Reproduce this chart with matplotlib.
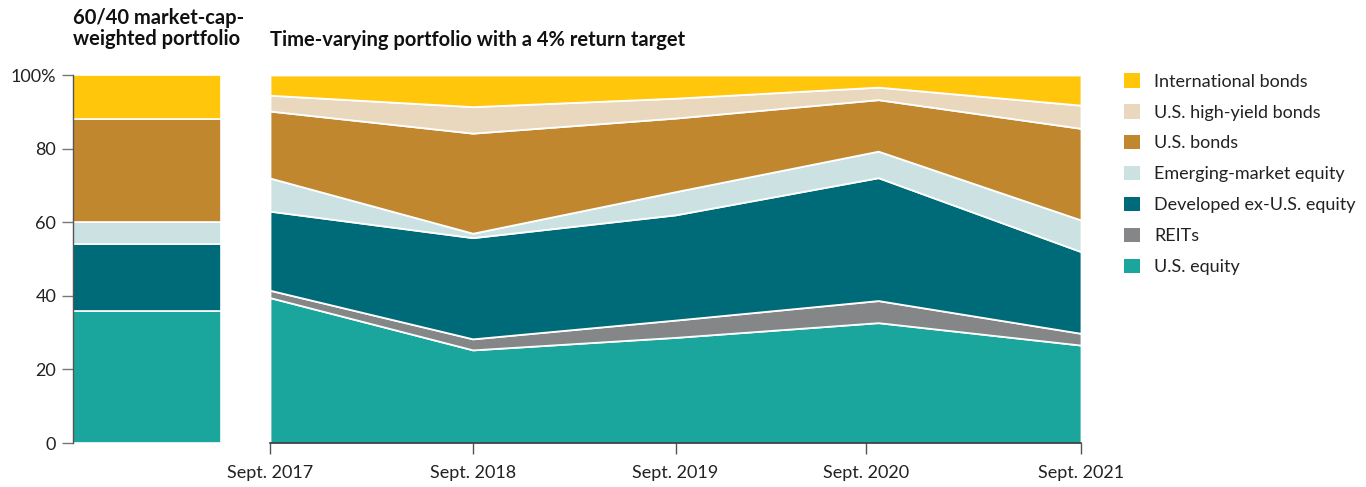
import matplotlib
matplotlib.use("Agg")
import matplotlib.pyplot as plt
from matplotlib.patches import Patch

plt.rcParams['font.family'] = ['Lato', 'DejaVu Sans']

# asset classes, bottom to top
assets = ["U.S. equity", "REITs", "Developed ex-U.S. equity", "Emerging-market equity",
          "U.S. bonds", "U.S. high-yield bonds", "International bonds"]
colors = ["#1AA59D", "#858688", "#006B78", "#CCE1E1", "#C0872E", "#EAD8BE", "#FFC60B"]

# 60/40 market-cap-weighted portfolio (%)
static_mix = [36, 0, 18, 6, 28, 0, 12]

# time-varying portfolio, Sept. 2017 .. Sept. 2021 (%)
years = [0, 1, 2, 3, 4]
us_equity = [39.5, 25.3, 28.7, 32.7, 26.6]
reits = [2.0, 3.0, 4.7, 6.0, 3.2]
dev_exus = [21.5, 27.5, 28.6, 33.4, 22.2]
em_equity = [9.0, 1.2, 6.3, 7.2, 8.6]
us_bonds = [18.2, 27.2, 20.0, 14.0, 24.9]
us_hy = [4.3, 7.2, 5.4, 3.4, 6.3]
intl_bonds = [5.5, 8.6, 6.3, 3.3, 8.2]

tick_pos = [0, 1, 2, 2.94, 4]
tick_labels = ["Sept. 2017", "Sept. 2018", "Sept. 2019", "Sept. 2020", "Sept. 2021"]

W, H = 1366, 487
fig = plt.figure(figsize=(W / 100, H / 100), dpi=100)

ax1 = fig.add_axes([73 / W, 1 - 443 / H, 148 / W, 368 / H])
ax2 = fig.add_axes([270 / W, 1 - 443 / H, 811 / W, 368 / H])

# left: single stacked bar
bottom = 0
for v, c in zip(static_mix, colors):
    if v > 0:
        ax1.bar(0, v, width=1, bottom=bottom, color=c, edgecolor="white", linewidth=1.2)
    bottom += v
ax1.set_xlim(-0.5, 0.5)
ax1.set_ylim(0, 100)
ax1.set_xticks([])
ax1.set_yticks([0, 20, 40, 60, 80, 100])
ax1.set_yticklabels(["0", "20", "40", "60", "80", "100%"])
for s in ["top", "right", "bottom"]:
    ax1.spines[s].set_visible(False)
ax1.spines["left"].set_color("#555555")
ax1.spines["left"].set_linewidth(1.0)
ax1.tick_params(axis="y", length=8, width=1.0, color="#777777", labelsize=13,
                labelcolor="#222222", pad=4)

# right: stacked area
series = [us_equity, reits, dev_exus, em_equity, us_bonds, us_hy, intl_bonds]
ax2.stackplot(years, series, colors=colors, edgecolor="white", linewidth=1.3)
ax2.set_xlim(0, 4)
ax2.set_ylim(0, 100)
ax2.set_yticks([])
ax2.set_xticks(tick_pos)
ax2.set_xticklabels(tick_labels)
for s in ["top", "right", "left"]:
    ax2.spines[s].set_visible(False)
ax2.spines["bottom"].set_color("#333333")
ax2.spines["bottom"].set_linewidth(1.2)
ax2.tick_params(axis="x", length=8, width=1.0, color="#555555", labelsize=13,
                labelcolor="#222222", pad=8)

fig.text(73 / W, 1 - 8 / H, "60/40 market-cap-\nweighted portfolio", fontsize=14.5,
         fontweight="bold", color="#111111", ha="left", va="top", linespacing=1.08)
fig.text(270 / W, 1 - 40 / H, "Time-varying portfolio with a 4% return target", fontsize=14.5,
         fontweight="bold", color="#111111", ha="left", va="center")

handles = [Patch(facecolor=c, edgecolor="none") for c in colors[::-1]]
fig.legend(handles, assets[::-1], loc="upper left", bbox_to_anchor=(1117 / W, 1 - 66 / H),
           frameon=False, fontsize=13, handlelength=0.85, handleheight=0.85,
           handletextpad=0.8, labelspacing=0.80, borderaxespad=0, labelcolor="#222222")

fig.savefig("out.png", dpi=100)
